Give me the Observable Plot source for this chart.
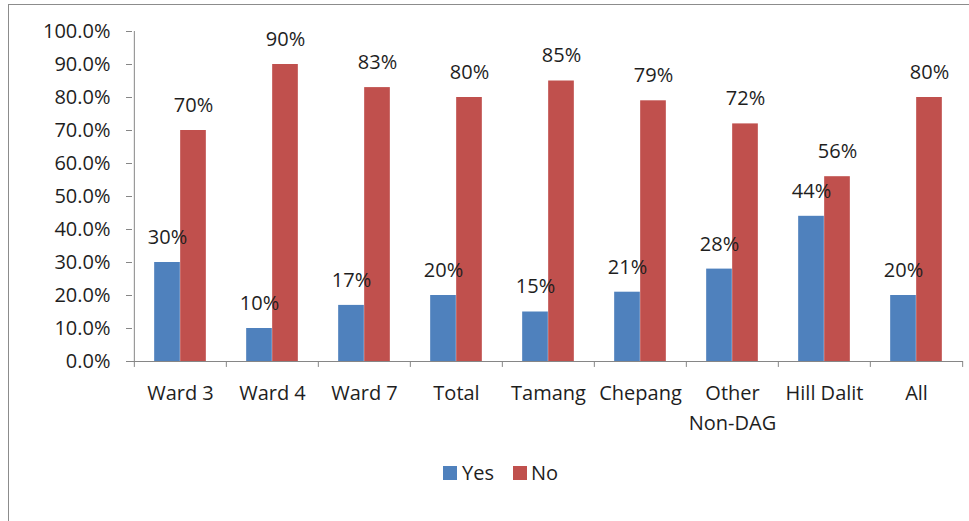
<!DOCTYPE html>
<html>
<head>
<meta charset="utf-8">
<script src="https://cdn.jsdelivr.net/npm/d3@7"></script>
<script src="https://cdn.jsdelivr.net/npm/@observablehq/plot@0.6"></script>
<style>
  body { margin: 0; background: #fff; font-family: "Open Sans", sans-serif; }
  #wrap { position: relative; width: 969px; height: 521px; overflow: hidden; }
  #border { position: absolute; left: 8px; top: 4px; width: 1000px; height: 600px; border: 1px solid #8c8c8c; box-sizing: border-box; }
  #chart { position: absolute; left: 0; top: 0; }
  #legend { position: absolute; left: 0; top: 459px; width: 1000px; height: 28px; font-size: 20px; color: #1e1e1e; }
  .sw { position: absolute; top: 7px; width: 14px; height: 14px; }
  .lt { position: absolute; top: 0; line-height: 28px; }
</style>
</head>
<body>
<div id="wrap">
  <div id="border"></div>
  <div id="chart"></div>
  <div id="legend"></div>
</div>
<script>
const categories = ["Ward 3", "Ward 4", "Ward 7", "Total", "Tamang", "Chepang", "Other\nNon-DAG", "Hill Dalit", "All"];
const yesValues = [0.30, 0.10, 0.17, 0.20, 0.15, 0.21, 0.28, 0.44, 0.20];
const noValues  = [0.70, 0.90, 0.83, 0.80, 0.85, 0.79, 0.72, 0.56, 0.80];
const seriesNames = ["Yes", "No"];
const seriesColors = ["#4F81BD", "#C0504D"];
const yTicks = [0, 0.1, 0.2, 0.3, 0.4, 0.5, 0.6, 0.7, 0.8, 0.9, 1.0];

const W = 969, H = 450, mL = 132, mR = 6, mT = 31, mB = 89;
const step = (W - mL - mR) / categories.length;
const barW = 26;
const outer = (step - 2 * barW) / 2;

const rows = [];
categories.forEach((c, i) => {
  rows.push({cat: c, series: "Yes", value: yesValues[i]});
  rows.push({cat: c, series: "No", value: noValues[i]});
});
const yesRows = rows.filter(d => d.series === "Yes");
const noRows = rows.filter(d => d.series === "No");
const fmtPct = d => Math.round(d.value * 100) + "%";
const axisColor = "#868686";
const textColor = "#1e1e1e";
const fs = 20;

const plot = Plot.plot({
  width: W, height: H,
  marginLeft: mL, marginRight: mR, marginTop: mT, marginBottom: mB,
  style: {fontFamily: "'Open Sans', sans-serif", fontSize: fs + "px", color: textColor, background: "transparent"},
  x: {domain: categories, padding: 0, axis: null},
  y: {domain: [0, 1], axis: null},
  marks: [
    Plot.barY(yesRows, {x: "cat", y: "value", fill: seriesColors[0], insetLeft: outer, insetRight: outer + barW}),
    Plot.barY(noRows, {x: "cat", y: "value", fill: seriesColors[1], insetLeft: outer + barW, insetRight: outer}),
    Plot.ruleY([0], {stroke: axisColor, strokeWidth: 1}),
    Plot.ruleX([categories[0]], {y1: 0, y2: 1, dx: -step / 2, stroke: axisColor}),
    Plot.ruleX(categories, {y1: 0, y2: -0.018, dx: -step / 2, stroke: axisColor}),
    Plot.ruleX([categories[categories.length - 1]], {y1: 0, y2: -0.018, dx: step / 2, stroke: axisColor}),
    Plot.axisY({ticks: yTicks, tickFormat: d3.format(".1%"), tickSize: 6, tickPadding: 16, stroke: axisColor, fill: textColor, fontSize: fs, label: null}),
    Plot.text(categories, {x: d => d, y: () => 0, text: d => d, dy: 17, lineAnchor: "top", lineHeight: 1.5, fill: textColor, fontSize: fs}),
    Plot.text(yesRows, {x: "cat", y: "value", text: fmtPct, dx: -barW / 2, dy: -25, fill: textColor, fontSize: fs}),
    Plot.text(noRows, {x: "cat", y: "value", text: fmtPct, dx: barW / 2, dy: -25, fill: textColor, fontSize: fs})
  ]
});
document.getElementById("chart").appendChild(plot);

const legend = document.getElementById("legend");
const legendPos = [[443, 462], [513, 531]];
seriesNames.forEach((name, i) => {
  const sw = document.createElement("div");
  sw.className = "sw";
  sw.style.left = legendPos[i][0] + "px";
  sw.style.background = seriesColors[i];
  legend.appendChild(sw);
  const t = document.createElement("div");
  t.className = "lt";
  t.style.left = legendPos[i][1] + "px";
  t.textContent = name;
  legend.appendChild(t);
});
</script>
</body>
</html>
